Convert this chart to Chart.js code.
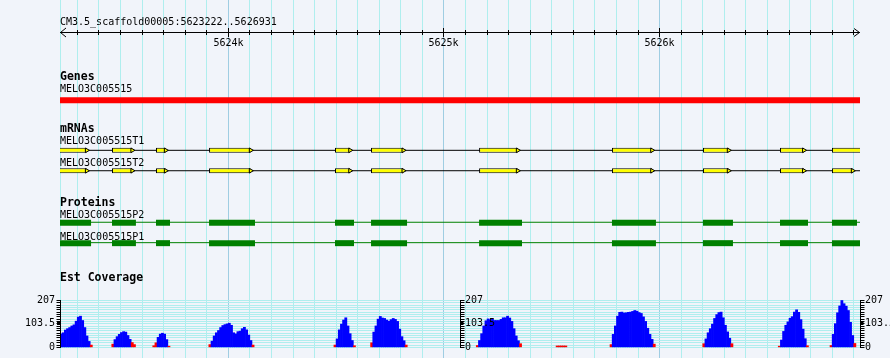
<!DOCTYPE html>
<html>
<head>
<meta charset="utf-8">
<script src="https://cdn.jsdelivr.net/npm/chart.js@4.4.1/dist/chart.umd.min.js"></script>
<style>
  html, body { margin: 0; padding: 0; background: #F1F4FA; }
  #wrap { width: 890px; height: 358px; }
</style>
</head>
<body>
<div id="wrap"><canvas id="c" width="890" height="358"></canvas></div>
<script>
// ------------------------------------------------------------------
// DATA
// ------------------------------------------------------------------
const viewStart = 5623222;
const viewEnd = 5626931;
const regionLabel = 'CM3.5_scaffold00005:5623222..5626931';
const trackTitles = ['Genes', 'mRNAs', 'Proteins', 'Est Coverage'];
const geneName = 'MELO3C005515';
const mrnaNames = ['MELO3C005515T1', 'MELO3C005515T2'];
const proteinNames = ['MELO3C005515P2', 'MELO3C005515P1'];

// gene extends past both edges of the view
const geneSpan = [5623200, 5626960];

// exon / CDS block coordinates (bp)
const exonStarts = [5623200, 5623463, 5623667, 5623913, 5624497, 5624664, 5625165, 5625781, 5626203, 5626560, 5626801];
const mrnaEndsT1 = [5623346, 5623557, 5623712, 5624106, 5624567, 5624814, 5625344, 5625967, 5626322, 5626671, 5626960];
const mrnaEndsT2 = [5623346, 5623557, 5623712, 5624106, 5624567, 5624814, 5625344, 5625967, 5626322, 5626671, 5626897];
const cdsEndsP2  = [5623366, 5623574, 5623732, 5624126, 5624585, 5624831, 5625364, 5625985, 5626342, 5626690, 5626917];
const cdsEndsP1  = [5623366, 5623574, 5623732, 5624126, 5624585, 5624831, 5625364, 5625985, 5626342, 5626690, 5626960];

// EST coverage, 10 bp bins counted from viewStart; each peak = first bin index + values
const covBinSize = 10;
const covPeakStartBins = [0, 24, 43, 69, 127, 144, 193, 230, 255, 298, 333, 357];
const covPeakValues = [
  [57, 62, 74, 80, 85, 92, 97, 113, 131, 135, 116, 85, 48, 24, 8],
  [12, 32, 45, 55, 63, 67, 65, 50, 33, 19, 10],
  [5, 18, 42, 56, 60, 56, 32, 3],
  [10, 25, 48, 62, 72, 85, 94, 98, 101, 104, 95, 62, 57, 67, 69, 80, 86, 75, 52, 28, 8],
  [8, 35, 75, 100, 118, 128, 92, 58, 28, 5],
  [18, 65, 92, 122, 134, 127, 125, 118, 113, 120, 125, 121, 112, 78, 45, 27, 8],
  [6, 28, 58, 92, 115, 123, 119, 122, 116, 116, 116, 121, 128, 128, 135, 127, 112, 80, 48, 27, 14],
  [4, 4, 4, 4, 4],
  [10, 55, 92, 135, 152, 153, 149, 150, 152, 153, 156, 160, 157, 151, 147, 132, 112, 82, 55, 33, 12],
  [14, 35, 62, 80, 100, 125, 142, 151, 153, 128, 95, 66, 38, 14],
  [3, 30, 68, 95, 110, 126, 133, 153, 163, 152, 120, 78, 36, 5],
  [6, 55, 102, 150, 180, 204, 190, 179, 160, 108, 50, 15]
];
const covMax = 207;
const covTickValues = [0, 103.5, 207];
const covTickLabels = ['0', '103.5', '207'];
const covPivot = 20;   // values below are drawn red

// ------------------------------------------------------------------
// STYLE / LAYOUT
// ------------------------------------------------------------------
const BG = '#F1F4FA';
const GRID_MINOR = '#AFEEEE';
const GRID_MAJOR = '#9FCDE2';
const FONT = '10px "DejaVu Sans Mono", "Liberation Mono", monospace';
const FONT_B = 'bold 11.5px "DejaVu Sans Mono", "Liberation Mono", monospace';
const ROW = { gene: 98, t1: 149.5, t2: 170.5, p2Line: 223.5, p2: 224, p1Line: 244.5, p1: 245 };

// ------------------------------------------------------------------
// BUILD DATASETS
// ------------------------------------------------------------------
const covPoints = [];
covPeakStartBins.forEach((b0, k) => {
  covPeakValues[k].forEach((v, j) => {
    covPoints.push({ x: viewStart + (b0 + j) * covBinSize + covBinSize / 2, y: v });
  });
});

const gridValues = [viewStart];
for (let v = Math.ceil(viewStart / 100) * 100; v < viewEnd; v += 100) gridValues.push(v);
const rulerTicks = gridValues.slice(1);
const covGridValues = [];
for (let k = 0; k <= 20; k++) covGridValues.push(k * covMax / 20);

const spans = (starts, ends, row) => starts.map((s, i) => ({ y: row, x: [s, ends[i]] }));
const tips = (ends, row) => ends.map(e => ({ x: e, y: row }));
const hline = (row) => [{ x: geneSpan[0], y: row }, { x: geneSpan[1], y: row }];

const hbar = (data, color, thick, border) => ({
  type: 'bar', indexAxis: 'y', xAxisID: 'xg', yAxisID: 'y', grouped: false,
  barThickness: thick, inflateAmount: 0, borderSkipped: false,
  backgroundColor: color, borderColor: '#000000', borderWidth: border ? 1 : 0,
  data, order: 1
});
const lineDs = (row, color) => ({
  type: 'line', xAxisID: 'xg', yAxisID: 'y', borderColor: color, borderWidth: 1,
  pointRadius: 0, data: hline(row), order: 2
});
const tipDs = (data) => ({
  type: 'line', xAxisID: 'xg', yAxisID: 'y', showLine: false,
  pointStyle: 'triangle', pointRotation: 90, pointRadius: 2.7,
  pointBackgroundColor: '#FFFF00', pointBorderColor: '#000000', pointBorderWidth: 1,
  data, order: 0
});

const datasets = [
  // coverage histogram
  {
    type: 'bar', xAxisID: 'x', yAxisID: 'yCov', grouped: false,
    barPercentage: 1, categoryPercentage: 1, borderWidth: 0,
    backgroundColor: (c) => (c.raw && c.raw.y < covPivot) ? '#FF0000' : '#0000FF',
    data: covPoints, order: 3
  },
  // gene
  hbar([{ y: ROW.gene, x: geneSpan }], '#FF0000', 6, false),
  // mRNAs
  lineDs(ROW.t1, '#000000'),
  lineDs(ROW.t2, '#000000'),
  hbar(spans(exonStarts, mrnaEndsT1, ROW.t1), '#FFFF00', 5, true),
  hbar(spans(exonStarts, mrnaEndsT2, ROW.t2), '#FFFF00', 5, true),
  tipDs(tips(mrnaEndsT1, ROW.t1)),
  tipDs(tips(mrnaEndsT2, ROW.t2)),
  // proteins
  lineDs(ROW.p2Line, '#008000'),
  lineDs(ROW.p1Line, '#008000'),
  hbar(spans(exonStarts, cdsEndsP2, ROW.p2), '#008000', 6, false),
  hbar(spans(exonStarts, cdsEndsP1, ROW.p1), '#008000', 6, false)
];

// ------------------------------------------------------------------
// DECORATION PLUGIN (grid, ruler, labels, coverage scales) using chart scales
// ------------------------------------------------------------------
const decor = {
  id: 'gbDecor',
  beforeDraw(chart) {
    const ctx = chart.ctx;
    ctx.save();
    ctx.fillStyle = BG;
    ctx.fillRect(0, 0, chart.width, chart.height);
    ctx.restore();
  },
  beforeDatasetsDraw(chart) {
    const ctx = chart.ctx;
    const xs = chart.scales.x;
    const yc = chart.scales.yCov;
    const ca = chart.chartArea;
    ctx.save();
    ctx.lineWidth = 1;
    gridValues.forEach(v => {
      const px = Math.round(xs.getPixelForValue(v)) + 0.5;
      ctx.strokeStyle = (v % 1000 === 0) ? GRID_MAJOR : GRID_MINOR;
      ctx.beginPath();
      ctx.moveTo(px, 0);
      ctx.lineTo(px, chart.height);
      ctx.stroke();
    });
    ctx.strokeStyle = GRID_MINOR;
    ctx.beginPath();
    covGridValues.forEach(v => {
      const py = Math.round(yc.getPixelForValue(v)) + 0.5;
      ctx.moveTo(ca.left, py);
      ctx.lineTo(ca.right + 1, py);
    });
    ctx.stroke();
    ctx.restore();
  },
  afterDatasetsDraw(chart) {
    const ctx = chart.ctx;
    const xs = chart.scales.x;
    const yc = chart.scales.yCov;
    ctx.save();
    ctx.strokeStyle = '#000';
    ctx.fillStyle = '#000';
    ctx.lineWidth = 1;

    // ---- ruler ----
    const rY = 32.5;
    const xl = xs.getPixelForValue(viewStart);
    const xr = xs.getPixelForValue(viewEnd);
    ctx.beginPath();
    ctx.moveTo(xl, rY); ctx.lineTo(xr, rY);
    ctx.moveTo(xl + 6, rY - 4.5); ctx.lineTo(xl + 0.5, rY); ctx.lineTo(xl + 6, rY + 4.5);
    ctx.moveTo(xr - 6, rY - 4); ctx.lineTo(xr - 0.5, rY); ctx.lineTo(xr - 6, rY + 4);
    rulerTicks.forEach(v => {
      const px = Math.round(xs.getPixelForValue(v)) + 0.5;
      const major = v % 1000 === 0;
      ctx.moveTo(px, major ? 28 : 30);
      ctx.lineTo(px, major ? 37 : 35);
    });
    ctx.stroke();

    ctx.font = FONT;
    ctx.textBaseline = 'alphabetic';
    ctx.textAlign = 'center';
    rulerTicks.filter(v => v % 1000 === 0).forEach(v => {
      ctx.fillText((v / 1000) + 'k', Math.round(xs.getPixelForValue(v)) + 0.5, 45.5);
    });

    // ---- track labels ----
    ctx.textAlign = 'left';
    ctx.fillText(regionLabel, 60, 25);
    ctx.font = FONT_B;
    ctx.fillText(trackTitles[0], 60, 80);
    ctx.fillText(trackTitles[1], 60, 132);
    ctx.fillText(trackTitles[2], 60, 205.5);
    ctx.fillText(trackTitles[3], 60, 280.5);
    ctx.font = FONT;
    ctx.fillText(geneName, 60, 92);
    ctx.fillText(mrnaNames[0], 60, 144.3);
    ctx.fillText(mrnaNames[1], 60, 165.7);
    ctx.fillText(proteinNames[0], 60, 218.2);
    ctx.fillText(proteinNames[1], 60, 240);

    // ---- coverage scales (left, middle, right) ----
    const ca = chart.chartArea;
    const axes = [
      { x: Math.round(ca.left) + 0.5, dir: -1 },
      { x: Math.round((ca.left + ca.right) / 2) + 0.5, dir: 1 },
      { x: Math.round(ca.right) + 0.5, dir: 1 }
    ];
    const yTop = yc.getPixelForValue(covMax);
    const yBot = yc.getPixelForValue(0);
    axes.forEach(a => {
      ctx.beginPath();
      ctx.moveTo(a.x, Math.round(yTop));
      ctx.lineTo(a.x, Math.round(yBot) + 1);
      covGridValues.forEach(v => {
        const py = Math.round(yc.getPixelForValue(v)) + 0.5;
        ctx.moveTo(a.x, py);
        ctx.lineTo(a.x + a.dir * 4, py);
      });
      ctx.stroke();
      const pm = Math.round(yc.getPixelForValue(covMax / 2));
      ctx.fillRect(a.dir < 0 ? a.x - 3.5 : a.x - 0.5, pm - 1, 3.5, 3);
      ctx.font = FONT;
      ctx.textBaseline = 'middle';
      ctx.textAlign = a.dir < 0 ? 'right' : 'left';
      covTickValues.forEach((v, i) => {
        const py = yc.getPixelForValue(v) + 0.5;
        ctx.fillText(covTickLabels[i], a.dir < 0 ? a.x - 5.5 : a.x + 4.5, py);
      });
    });
    ctx.restore();
  }
};

// ------------------------------------------------------------------
// CHART
// ------------------------------------------------------------------
new Chart(document.getElementById('c'), {
  type: 'bar',
  data: { datasets },
  options: {
    responsive: false,
    animation: false,
    devicePixelRatio: 1,
    layout: { padding: { left: 60, right: 30, top: 0, bottom: 0 } },
    plugins: { legend: { display: false }, tooltip: { enabled: false } },
    scales: {
      x: {
        type: 'linear', axis: 'x', display: false,
        min: viewStart, max: viewEnd, offset: false, grid: { offset: false }
      },
      xg: {
        type: 'linear', axis: 'x', display: false,
        min: viewStart, max: viewEnd, offset: false, grid: { offset: false }
      },
      y: {
        type: 'linear', axis: 'y', display: false,
        min: 0, max: 358, reverse: true, offset: false, grid: { offset: false }
      },
      // maps 0 -> y 351.7 and 207 -> y 303.3 inside the full-height plot area
      yCov: {
        type: 'linear', axis: 'y', display: false,
        min: -27.0, max: 1504.2, offset: false, grid: { offset: false }
      }
    }
  },
  plugins: [decor]
});
</script>
</body>
</html>
